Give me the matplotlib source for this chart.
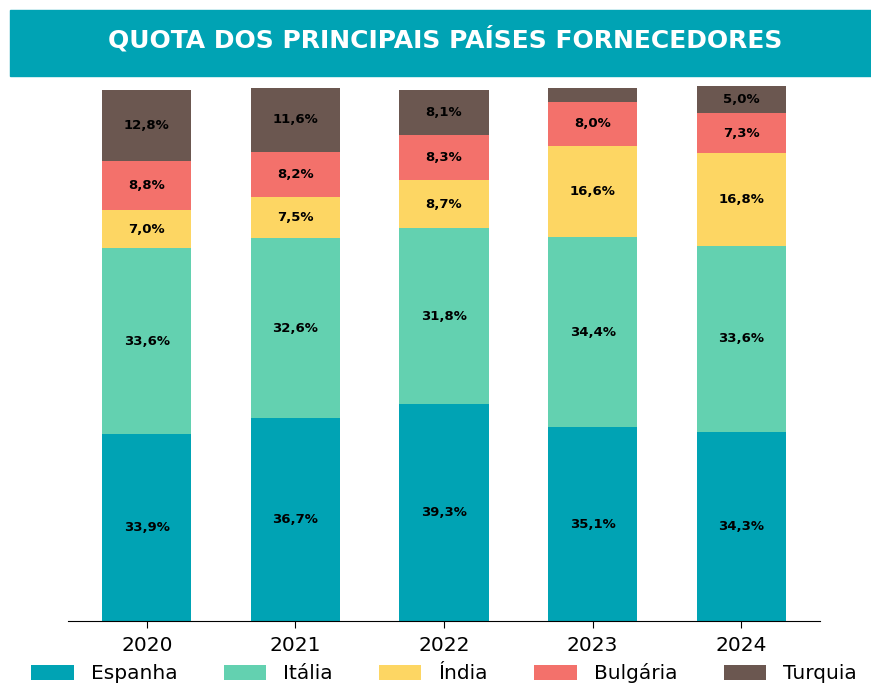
import matplotlib.pyplot as plt
from matplotlib.patches import Rectangle
import numpy as np

# Share of main supplier countries (%)
years = ['2020', '2021', '2022', '2023', '2024']
espanha = [33.9, 36.7, 39.3, 35.1, 34.3]
italia = [33.6, 32.6, 31.8, 34.4, 33.6]
india = [7.0, 7.5, 8.7, 16.6, 16.8]
bulgaria = [8.8, 8.2, 8.3, 8.0, 7.3]
turquia = [12.8, 11.6, 8.1, 2.5, 5.0]

series = [('Espanha', espanha, '#00A3B4'),
          ('Itália', italia, '#63D1B0'),
          ('Índia', india, '#FDD663'),
          ('Bulgária', bulgaria, '#F3716B'),
          ('Turquia', turquia, '#6B5750')]

fig = plt.figure(figsize=(8.71, 6.86), dpi=100)
ax = fig.add_axes([0.0781, 0.0948, 0.8634, 0.8047])

x = np.arange(len(years))
bottom = np.zeros(len(years))
for name, vals, color in series:
    vals = np.array(vals)
    ax.bar(x, vals, 0.6, bottom=bottom, color=color, label=name)
    for xi, b, v in zip(x, bottom, vals):
        if v >= 3:  # small shares are left without a label
            ax.text(xi, b + v / 2, f'{v:.1f}%'.replace('.', ','), ha='center', va='center',
                    fontsize=9.5, fontweight='bold', color='black')
    bottom += vals

ax.set_ylim(0, 100)
ax.set_xticks(x)
ax.set_xticklabels(years, fontsize=14.5)
ax.tick_params(axis='x', length=5, pad=6)
ax.set_yticks([])
for s in ['top', 'right', 'left']:
    ax.spines[s].set_visible(False)

ax.legend(loc='upper center', bbox_to_anchor=(0.5, -0.062), ncol=5, frameon=False,
          fontsize=14.5, handlelength=2.1, handleheight=0.75, handletextpad=0.85,
          columnspacing=2.3, borderaxespad=0)

# Title banner
fig.patches.append(Rectangle((10 / 871, 1 - 76 / 686), 1, 66 / 686,
                             transform=fig.transFigure, color='#00A3B4', zorder=0))
fig.text(445 / 871, 1 - 39 / 686, 'QUOTA DOS PRINCIPAIS PAÍSES FORNECEDORES', ha='center', va='center',
         fontsize=18, fontweight='bold', color='white')

fig.savefig('out.png', dpi=100)
